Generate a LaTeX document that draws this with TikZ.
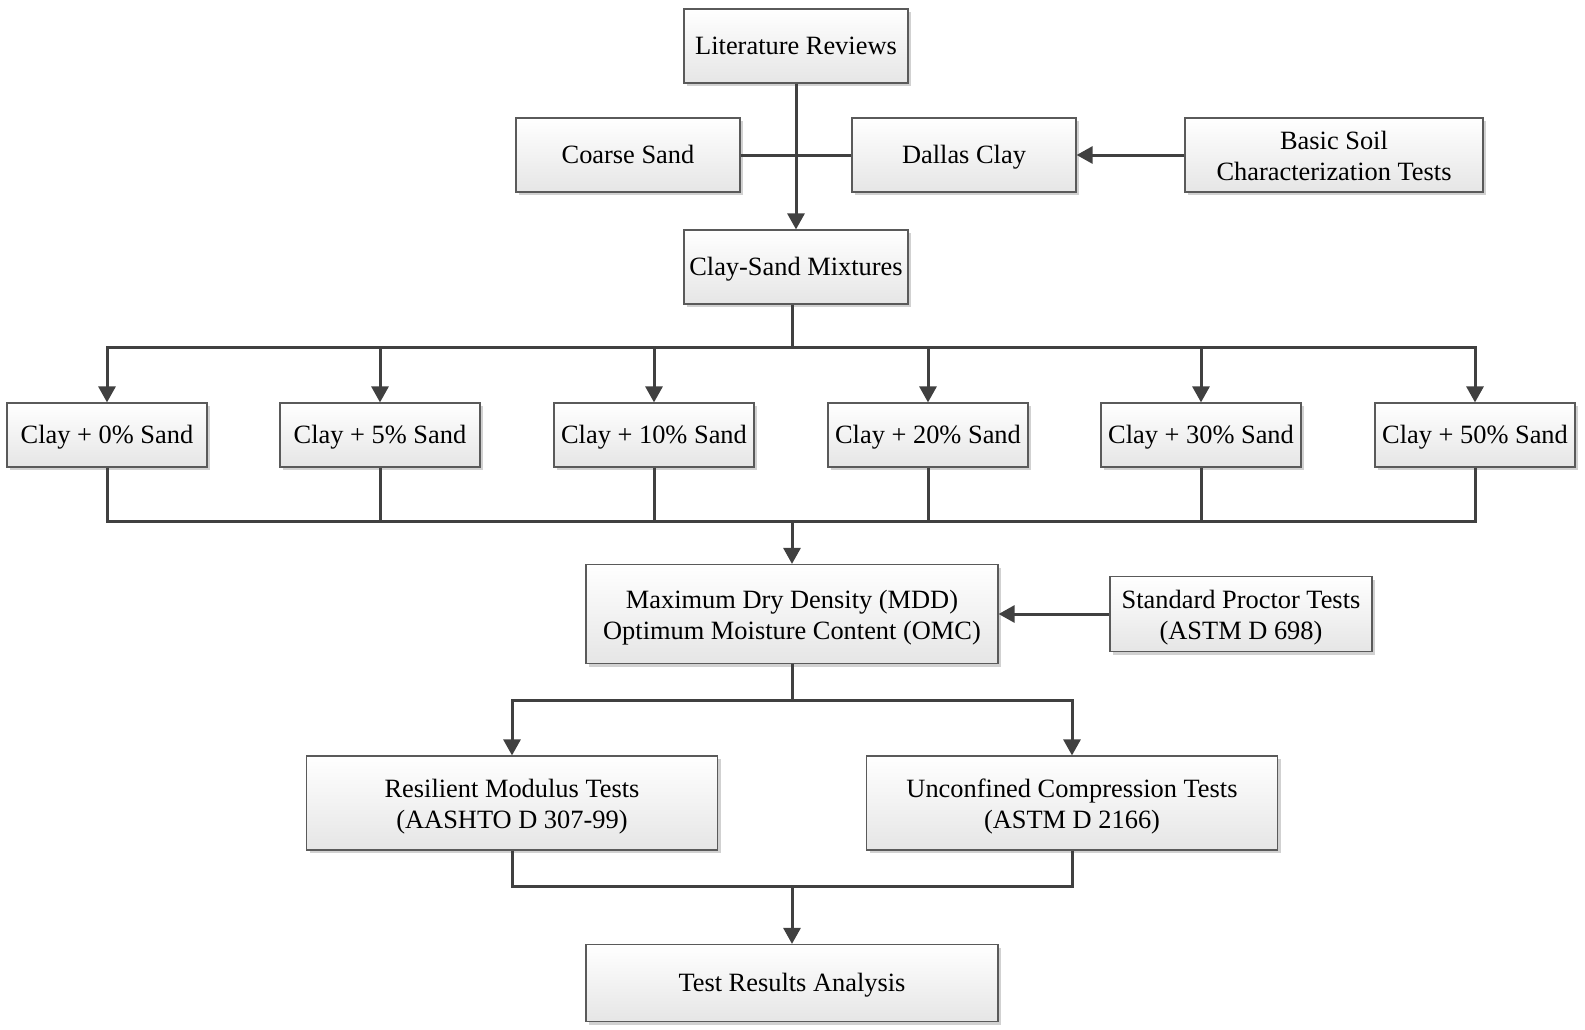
\documentclass[tikz,border=0pt]{standalone}
\usepackage{fontspec}
\setmainfont{Liberation Serif}
\definecolor{lineg}{HTML}{404040}
\definecolor{boxline}{HTML}{5A5A5A}
\usetikzlibrary{arrows.meta, shadows}
\newcommand\boxstrut{\rule[-3.2pt]{0pt}{15.2pt}}
\newcommand\topstrut{\rule[-3.2pt]{0pt}{16.4pt}}

\begin{document}
\begin{tikzpicture}[x=0.5pt, y=-0.5pt, >={Triangle[length=8pt, width=8.5pt]},
    box/.style={draw=boxline, line width=0.6pt, top color=white, bottom color=gray!20,
      drop shadow={shadow xshift=1.6pt, shadow yshift=-1.6pt, fill=black!18, opacity=1},
      align=center, inner sep=0pt, font=\fontsize{13.2}{15.8}\selectfont},
    conn/.style={draw=lineg, line width=1.5pt}]
  \useasboundingbox (0,0) rectangle (1585,1029);
  % Top row
  \node[box, minimum width=112pt, minimum height=37pt] (lit) at (796,46)
    {\boxstrut Literature Reviews};
  \node[box, minimum width=112pt, minimum height=37pt] (coarse) at (628,155)
    {\boxstrut Coarse Sand};
  \node[box, minimum width=112pt, minimum height=37pt] (dallas) at (964,155)
    {\boxstrut Dallas Clay};
  \node[box, minimum width=149pt, minimum height=37pt] (basic) at (1334,155)
    {\topstrut Basic Soil\\Characterization Tests\boxstrut};
  \node[box, minimum width=112pt, minimum height=37pt] (mix) at (796,267)
    {\boxstrut Clay-Sand Mixtures};
  % Mixtures
  \node[box, minimum width=100pt, minimum height=32pt] (c1) at (107,435) {\boxstrut Clay + 0\% Sand};
  \node[box, minimum width=100pt, minimum height=32pt] (c2) at (380,435) {\boxstrut Clay + 5\% Sand};
  \node[box, minimum width=100pt, minimum height=32pt] (c3) at (654,435) {\boxstrut Clay + 10\% Sand};
  \node[box, minimum width=100pt, minimum height=32pt] (c4) at (928,435) {\boxstrut Clay + 20\% Sand};
  \node[box, minimum width=100pt, minimum height=32pt] (c5) at (1201,435) {\boxstrut Clay + 30\% Sand};
  \node[box, minimum width=100pt, minimum height=32pt] (c6) at (1475,435) {\boxstrut Clay + 50\% Sand};
  % Compaction
  \node[box, minimum width=206pt, minimum height=49.5pt] (mdd) at (792,614)
    {\topstrut Maximum Dry Density (MDD)\\Optimum Moisture Content (OMC)\boxstrut};
  \node[box, minimum width=131pt, minimum height=37.5pt] (proctor) at (1241,614)
    {\topstrut Standard Proctor Tests\\(ASTM D 698)\boxstrut};
  % Tests
  \node[box, minimum width=205.5pt, minimum height=47pt] (res) at (512,803)
    {\topstrut Resilient Modulus Tests\\(AASHTO D 307-99)\boxstrut};
  \node[box, minimum width=205.5pt, minimum height=47pt] (unc) at (1072,803)
    {\topstrut Unconfined Compression Tests\\(ASTM D 2166)\boxstrut};
  \node[box, minimum width=206pt, minimum height=38.5pt] (tra) at (792,983)
    {\boxstrut Test Results Analysis};
  % Connectors
  \coordinate (busA) at (792,347);
  \coordinate (busB) at (792,521);
  \coordinate (busC) at (792,700);
  \coordinate (busD) at (792,886);
  \draw[conn] (coarse) -- (dallas);
  \draw[conn, ->] (lit) -- (mix);
  \draw[conn, ->] (basic) -- (dallas);
  \draw[conn] (mix.south -| busA) -- (busA);
  \foreach \n in {1,...,6} {
    \draw[conn, ->] (busA) -| (c\n.north);
    \draw[conn] (c\n.south) |- (busB);
  }
  \draw[conn, ->] (busB) -- (mdd);
  \draw[conn, ->] (proctor) -- (mdd);
  \draw[conn] (mdd.south) -- (busC);
  \draw[conn, ->] (busC) -| (res.north);
  \draw[conn, ->] (busC) -| (unc.north);
  \draw[conn] (res.south) |- (busD);
  \draw[conn] (unc.south) |- (busD);
  \draw[conn, ->] (busD) -- (tra);
\end{tikzpicture}
\end{document}
